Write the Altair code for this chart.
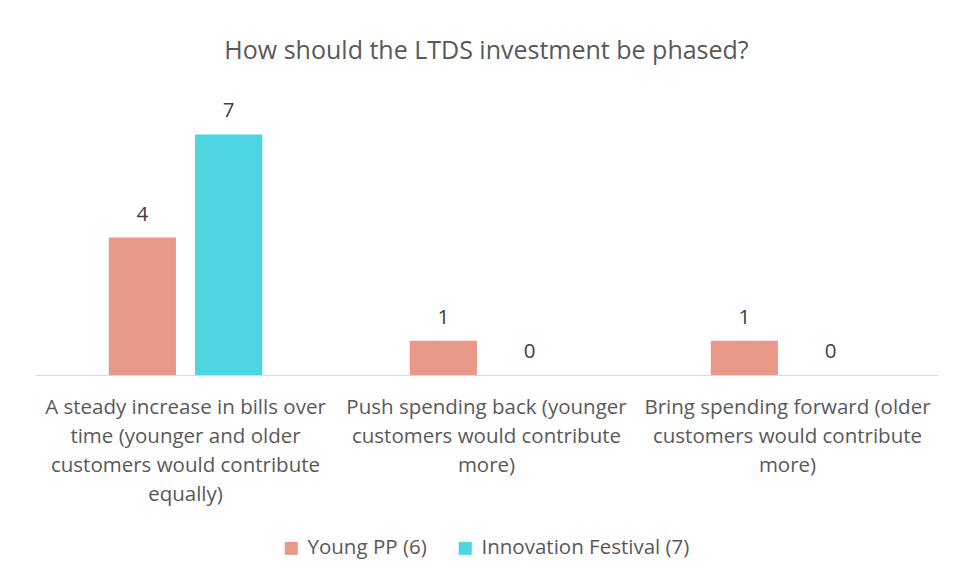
import altair as alt
import pandas as pd

categories = [
    "A steady increase in bills over|time (younger and older|customers would contribute|equally)",
    "Push spending back (younger|customers would contribute|more)",
    "Bring spending forward (older|customers would contribute|more)",
]
series = ["Young PP (6)", "Innovation Festival (7)"]
young_pp = [4, 1, 1]
innovation = [7, 0, 0]
colors = ["#E9998A", "#4DD5E2"]

rows = []
for i, c in enumerate(categories):
    rows.append({"cat": c, "series": series[0], "value": young_pp[i]})
    rows.append({"cat": c, "series": series[1], "value": innovation[i]})
df = pd.DataFrame(rows)

FONT = "Open Sans"

x = alt.X("cat:N", sort=categories, title=None,
          scale=alt.Scale(paddingInner=0.49, paddingOuter=0.245),
          axis=alt.Axis(labelAngle=0, ticks=False, domainColor="#D9D9D9", domainWidth=1,
                        labelExpr="split(datum.label, '|')", labelFontSize=20.5,
                        labelColor="#595959", labelFont=FONT, labelLimit=400,
                        labelLineHeight=29, labelPadding=22))
xo = alt.XOffset("series:N", sort=series, scale=alt.Scale(paddingInner=0.221, paddingOuter=0))
y = alt.Y("value:Q", scale=alt.Scale(domain=[0, 8], nice=False), axis=None)

bars = alt.Chart(df).mark_bar().encode(
    x=x, xOffset=xo, y=y,
    color=alt.Color("series:N", sort=series,
                    scale=alt.Scale(domain=series, range=colors),
                    legend=alt.Legend(title=None, orient="none", direction="horizontal",
                                      legendX=246, legendY=438, symbolType="square",
                                      symbolSize=170, symbolStrokeWidth=0,
                                      labelFontSize=20.5, labelColor="#595959", labelFont=FONT,
                                      labelLimit=500,
                                      columnPadding=28, symbolOffset=0, labelOffset=6)),
)
labels = alt.Chart(df).mark_text(baseline="bottom", dy=-13, fontSize=20.5, color="#404040", font=FONT).encode(
    x=x, xOffset=xo, y=y, text="value:Q"
)

chart = alt.layer(bars, labels).properties(
    width=903, height=275,
    title=alt.TitleParams("How should the LTDS investment be phased?", fontSize=25,
                          color="#595959", font=FONT, fontWeight="normal", offset=36),
    autosize=alt.AutoSizeParams(type="none"),
    padding={"left": 27, "top": 92, "right": 4, "bottom": 196},
).configure_view(stroke=None)

chart.save("out.html", embed_options={"renderer": "svg", "actions": False})
